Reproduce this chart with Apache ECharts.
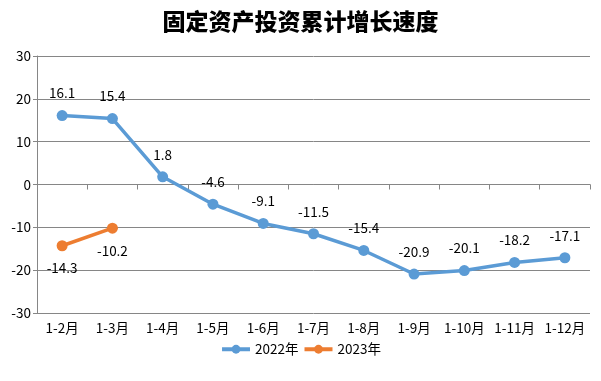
<!DOCTYPE html>
<html><head><meta charset="utf-8">
<script src="https://cdn.jsdelivr.net/npm/echarts@6/dist/echarts.min.js"></script>
<style>html,body{margin:0;padding:0;background:#fff}#c{width:601px;height:381px}</style>
</head><body><div id="c"></div>
<script>
const categories = ['1-2月','1-3月','1-4月','1-5月','1-6月','1-7月','1-8月','1-9月','1-10月','1-11月','1-12月'];
const s2022 = [16.1, 15.4, 1.8, -4.6, -9.1, -11.5, -15.4, -20.9, -20.1, -18.2, -17.1];
const s2023 = [-14.3, -10.2];
const seriesNames = ['2022年','2023年'];
const yTicks = {min: -30, max: 30, interval: 10};

const chart = echarts.init(document.getElementById('c'));
const font = '"Noto Sans CJK SC", sans-serif';
chart.setOption({
  animation: false,
  title: {text: '固定资产投资累计增长速度', left: 'center', top: 5,
    textStyle: {fontFamily: '"Noto Sans CJK SC"', fontWeight: 900, fontSize: 23, color: '#000'}},
  legend: {data: seriesNames, bottom: 20, left: 'center', itemWidth: 28, itemHeight: 11, itemGap: 4,
    lineStyle: {width: 4},
    textStyle: {fontFamily: font, fontSize: 13.5, color: '#000'}},
  grid: {left: 37, right: 11, top: 56, bottom: 68},
  xAxis: {type: 'category', data: categories, boundaryGap: true,
    axisLine: {lineStyle: {color: '#868686'}},
    axisTick: {show: true, alignWithLabel: false, length: 5, lineStyle: {color: '#868686'}},
    axisLabel: {interval: 0, fontFamily: font, fontSize: 13.5, color: '#000', margin: 8}},
  yAxis: {type: 'value', min: yTicks.min, max: yTicks.max, interval: yTicks.interval,
    axisLine: {show: true, lineStyle: {color: '#868686'}},
    axisTick: {show: true, length: 4, lineStyle: {color: '#868686'}},
    splitLine: {lineStyle: {color: '#868686'}},
    axisLabel: {fontFamily: font, fontSize: 13.5, color: '#000', margin: 6}},
  series: [
    {name: seriesNames[0], type: 'line', data: s2022, symbol: 'circle', symbolSize: 11,
      lineStyle: {width: 3.5, color: '#5b9bd5'}, itemStyle: {color: '#5b9bd5'},
      label: {show: true, position: 'top', distance: 10, fontFamily: font, fontSize: 13.5, color: '#000'}},
    {name: seriesNames[1], type: 'line', data: s2023, symbol: 'circle', symbolSize: 11,
      lineStyle: {width: 3.5, color: '#ed7d31'}, itemStyle: {color: '#ed7d31'},
      label: {show: true, position: 'bottom', distance: 10, fontFamily: font, fontSize: 13.5, color: '#000'}}
  ]
});
</script></body></html>
